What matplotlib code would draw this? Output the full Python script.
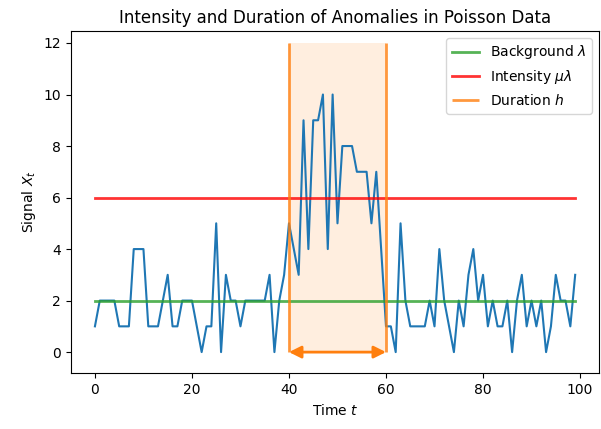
import numpy as np
import matplotlib
matplotlib.use("Agg")
import matplotlib.pyplot as plt

# signal, t = 0..99
signal = [1, 2, 2, 2, 2, 1, 1, 1, 4, 4,
          4, 1, 1, 1, 2, 3, 1, 1, 2, 2,
          2, 1, 0, 1, 1, 5, 0, 3, 2, 2,
          1, 2, 2, 2, 2, 2, 3, 0, 2, 3,
          5, 4, 3, 9, 4, 9, 9, 10, 4, 10,
          5, 8, 8, 8, 7, 7, 7, 5, 7, 4,
          1, 1, 0, 5, 2, 1, 1, 1, 1, 2,
          1, 4, 2, 1, 0, 2, 1, 3, 4, 2,
          3, 1, 2, 1, 1, 2, 0, 2, 3, 1,
          2, 1, 2, 0, 1, 3, 2, 2, 1, 3]
t = np.arange(len(signal))

background = 2
intensity = 6
start, end = 40, 60
top = 12

fig, ax = plt.subplots(figsize=(6.01, 4.29))
fig.subplots_adjust(left=0.118, right=0.997, top=0.928, bottom=0.13)

ax.plot(t, signal, color="tab:blue")
ax.plot(t, [background] * len(t), color="tab:green", lw=2, alpha=0.8, label=r"Background $\lambda$")
ax.plot(t, [intensity] * len(t), color="red", lw=2, alpha=0.8, label=r"Intensity $\mu\lambda$")

# duration window
ax.fill_between([start, end], 0, top, color="tab:orange", alpha=0.13, lw=0)
ax.vlines([start, end], 0, top, color="tab:orange", lw=2, alpha=0.8, label="Duration $h$")
ax.annotate("", xy=(start, 0), xytext=(end, 0),
            arrowprops=dict(arrowstyle="<|-|>", color="tab:orange", lw=2,
                            mutation_scale=18, shrinkA=0, shrinkB=0))

ax.set_ylim(-0.82, 12.47)
ax.set_xlabel("Time $t$")
ax.set_ylabel("Signal $X_t$")
ax.set_title("Intensity and Duration of Anomalies in Poisson Data")
ax.legend(loc="upper right")

plt.savefig("out.png", dpi=100)
